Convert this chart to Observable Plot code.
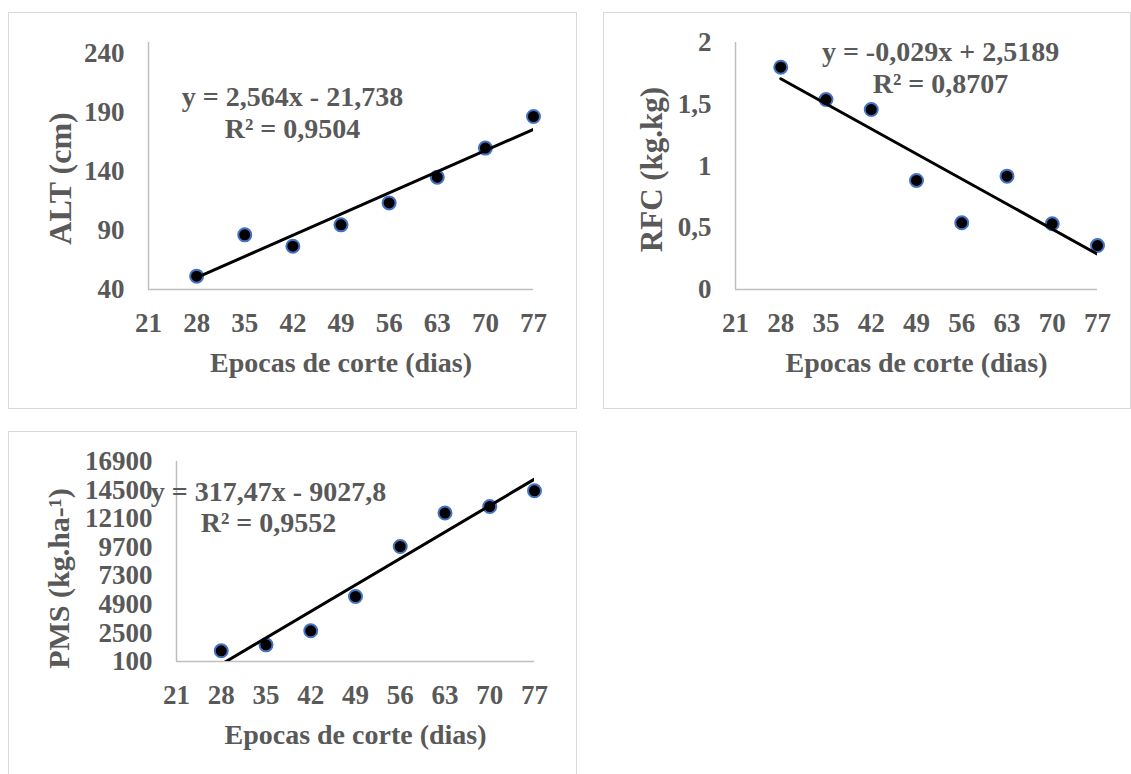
<!DOCTYPE html>
<html>
<head>
<meta charset="utf-8">
<script src="https://cdn.jsdelivr.net/npm/d3@7"></script>
<script src="https://cdn.jsdelivr.net/npm/@observablehq/plot@0.6"></script>
<style>
  body { margin: 0; background: #fff; width: 1131px; height: 774px; overflow: hidden; position: relative; font-family: "Liberation Serif", "Times New Roman", serif; }
  .panel { position: absolute; box-sizing: border-box; border: 1.5px solid #d9d9d9; }
  .chart { position: absolute; }
  .chart svg text { font-weight: bold; }
</style>
</head>
<body>
<script>
// ---- data ----
const days = [28, 35, 42, 49, 56, 63, 70, 77];
const xTicks = [21, 28, 35, 42, 49, 56, 63, 70, 77];
const xTitle = "Epocas de corte (dias)";

const altValues = [51.3, 86.3, 76.7, 94.8, 113.4, 135.2, 159.8, 186.6];
const altTicks = [40, 90, 140, 190, 240];
const altTitle = "ALT (cm)";
const altSlope = 2.564, altIntercept = -21.738;
const altEquation = "y = 2,564x - 21,738\nR² = 0,9504";

const rfcValues = [1.80, 1.538, 1.457, 0.883, 0.540, 0.918, 0.532, 0.356];
const rfcTicks = [0, 0.5, 1, 1.5, 2];
const rfcTitle = "RFC (kg.kg)";
const rfcSlope = -0.029, rfcIntercept = 2.5189;
const rfcEquation = "y = -0,029x + 2,5189\nR² = 0,8707";

const pmsValues = [1000, 1500, 2680, 5560, 9760, 12570, 13120, 14440];
const pmsTicks = [100, 2500, 4900, 7300, 9700, 12100, 14500, 16900];
const pmsTitle = "PMS (kg.ha-¹)";
const pmsSlope = 317.47, pmsIntercept = -9027.8;
const pmsEquation = "y = 317,47x - 9027,8\nR² = 0,9552";

// ---- drawing ----
const TEXT = "#595959";
const AXIS = "#bfbfbf";

function panel(o) {
  const frame = document.createElement("div");
  frame.className = "panel";
  Object.assign(frame.style, {left: o.left + "px", top: o.top + "px", width: o.fw + "px", height: o.fh + "px"});
  document.body.appendChild(frame);

  const pts = days.map((d, i) => ({x: d, y: o.values[i]}));
  const trend = [days[0], days[days.length - 1]].map(x => ({x, y: o.slope * x + o.intercept}));

  const chart = Plot.plot({
    width: o.width, height: o.height,
    marginLeft: o.ml, marginRight: o.mr, marginTop: o.mt, marginBottom: o.mb,
    style: {fontFamily: "Liberation Serif, Times New Roman, serif", fontSize: "27px", color: TEXT, background: "transparent", overflow: "visible"},
    x: {domain: [21, 77]},
    y: {domain: o.yDomain},
    marks: [
      Plot.axisX({ticks: xTicks, tickSize: 0, tickPadding: 23, label: null, fontSize: 27, tickFormat: d => String(d)}),
      Plot.axisY({ticks: o.yTicks, tickSize: 0, tickPadding: 24, label: null, fontSize: 27, tickFormat: o.fmt}),
      Plot.ruleX([21], {stroke: AXIS, strokeWidth: 1.5}),
      Plot.ruleY([o.yDomain[0]], {stroke: AXIS, strokeWidth: 1.5}),
      Plot.dot(pts, {x: "x", y: "y", r: 6.5, fill: "black", stroke: "#4472C4", strokeWidth: 2}),
      Plot.line(trend, {x: "x", y: "y", stroke: "black", strokeWidth: 3, clip: "frame"}),
      Plot.text([o.equation], {frameAnchor: "top-left", textAnchor: "middle", lineAnchor: "middle", lineHeight: 1.12, dx: o.eqDx, dy: o.eqDy, fontSize: 28, fill: TEXT}),
      Plot.text([xTitle], {frameAnchor: "bottom", textAnchor: "middle", lineAnchor: "middle", dy: 74, fontSize: 28, fill: TEXT}),
      Plot.text([o.title], {frameAnchor: "left", rotate: -90, textAnchor: "middle", lineAnchor: "middle", dx: o.tDx, dy: o.tDy, fontSize: o.tSize, fill: TEXT})
    ]
  });
  const wrap = document.createElement("div");
  wrap.className = "chart";
  Object.assign(wrap.style, {left: o.left + "px", top: o.top + "px"});
  wrap.appendChild(chart);
  document.body.appendChild(wrap);
}

panel({
  left: 8, top: 12, fw: 569, fh: 397, width: 569, height: 397,
  ml: 140, mr: 44, mt: 30, mb: 120,
  yDomain: [40, 249.3], yTicks: altTicks, fmt: d => String(d),
  values: altValues, slope: altSlope, intercept: altIntercept,
  equation: altEquation, eqDx: 144, eqDy: 69.5,
  title: altTitle, tDx: -88, tDy: 12.5, tSize: 32
});

panel({
  left: 603, top: 12, fw: 528, fh: 397, width: 528, height: 397,
  ml: 132, mr: 34, mt: 30, mb: 120,
  yDomain: [0, 2], yTicks: rfcTicks, fmt: d => String(d).replace(".", ","),
  values: rfcValues, slope: rfcSlope, intercept: rfcIntercept,
  equation: rfcEquation, eqDx: 205, eqDy: 24.5,
  title: rfcTitle, tDx: -83, tDy: 3.5, tSize: 31
});

panel({
  left: 8, top: 431, fw: 569, fh: 360, width: 569, height: 345,
  ml: 168, mr: 43, mt: 30, mb: 115,
  yDomain: [100, 16900], yTicks: pmsTicks, fmt: d => String(d),
  values: pmsValues, slope: pmsSlope, intercept: pmsIntercept,
  equation: pmsEquation, eqDx: 92, eqDy: 45,
  title: pmsTitle, tDx: -117, tDy: 17, tSize: 30
});
</script>
</body>
</html>
